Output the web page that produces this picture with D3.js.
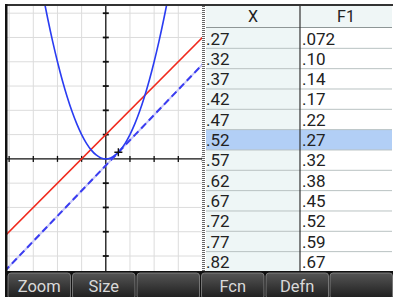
<!DOCTYPE html>
<html>
<head>
<meta charset="utf-8">
<script src="https://cdn.jsdelivr.net/npm/d3@7"></script>
<style>
  body { margin: 0; background: #fff; }
  svg { display: block; }
  text { font-family: Roboto, "Open Sans", sans-serif; }
</style>
</head>
<body>
<svg width="393" height="297"></svg>
<script>
// table values (X and F1 columns)
const tableX  = [".27", ".32", ".37", ".42", ".47", ".52", ".57", ".62", ".67", ".72", ".77", ".82"];
const tableF1 = [".072", ".10", ".14", ".17", ".22", ".27", ".32", ".38", ".45", ".52", ".59", ".67"];
const selectedRow = 5;

// plotted curves
const parabolaX = [-2.6, -2.4, -2.2, -2.0, -1.8, -1.6, -1.4, -1.2, -1.0, -0.8, -0.6, -0.4, -0.2, 0, 0.2, 0.4, 0.6, 0.8, 1.0, 1.2, 1.4, 1.6, 1.8, 2.0, 2.2, 2.4, 2.6];
const parabolaY = [6.76, 5.76, 4.84, 4.0, 3.24, 2.56, 1.96, 1.44, 1.0, 0.64, 0.36, 0.16, 0.04, 0, 0.04, 0.16, 0.36, 0.64, 1.0, 1.44, 1.96, 2.56, 3.24, 4.0, 4.84, 5.76, 6.76];
const redX = [-4.2, 4.2];
const redY = [-3.2, 5.2];
const tangentX = [-4.2, 4.2];
const tangentY = [-4.64, 4.10];
const cursor = [0.52, 0.27];

const gridX = [-4, -3, -2, -1, 1, 2, 3, 4];
const gridY = [-4, -3, -2, -1, 1, 2, 3, 4, 5, 6];

const menuLabels = ["Zoom", "Size", "", "Fcn", "Defn", ""];

const svg = d3.select("svg");

// graph area
const gx0 = 7, gx1 = 202, gy0 = 6, gy1 = 272;

const x = d3.scaleLinear().domain([-3, 3]).range([33.3, 178.3]);
const y = d3.scaleLinear().domain([-4, 6]).range([256, 13.2]);

svg.append("clipPath").attr("id", "gclip")
    .append("rect").attr("x", gx0).attr("y", gy0).attr("width", gx1 - gx0).attr("height", gy1 - gy0);

const g = svg.append("g").attr("clip-path", "url(#gclip)");
g.append("rect").attr("x", gx0).attr("y", gy0).attr("width", gx1 - gx0).attr("height", gy1 - gy0).attr("fill", "#fff");

g.selectAll(".vgrid").data(gridX).enter().append("line")
    .attr("x1", d => x(d)).attr("x2", d => x(d))
    .attr("y1", gy0).attr("y2", gy1)
    .attr("stroke", "#dcdcdc").attr("stroke-width", 1);
g.selectAll(".hgrid").data(gridY).enter().append("line")
    .attr("y1", d => y(d)).attr("y2", d => y(d))
    .attr("x1", gx0).attr("x2", gx1)
    .attr("stroke", "#dcdcdc").attr("stroke-width", 1);

// axes
g.append("line").attr("x1", x(0)).attr("x2", x(0)).attr("y1", gy0).attr("y2", gy1)
    .attr("stroke", "#111").attr("stroke-width", 1.3);
g.append("line").attr("y1", y(0)).attr("y2", y(0)).attr("x1", gx0).attr("x2", gx1)
    .attr("stroke", "#111").attr("stroke-width", 1.3);
g.selectAll(".ytick").data(gridY).enter().append("line")
    .attr("x1", x(0) - 3).attr("x2", x(0) + 3)
    .attr("y1", d => y(d)).attr("y2", d => y(d))
    .attr("stroke", "#111").attr("stroke-width", 1.8);
g.selectAll(".xtick").data(gridX).enter().append("line")
    .attr("y1", y(0) - 3).attr("y2", y(0) + 3)
    .attr("x1", d => x(d)).attr("x2", d => x(d))
    .attr("stroke", "#111").attr("stroke-width", 1.3);

const line = d3.line().x(d => x(d[0])).y(d => y(d[1]));

// tangent (dashed, over a pale line)
const tangentPts = d3.zip(tangentX, tangentY);
g.append("path").attr("d", line(tangentPts)).attr("fill", "none")
    .attr("stroke", "#c9c9f7").attr("stroke-width", 2);
g.append("path").attr("d", line(tangentPts)).attr("fill", "none")
    .attr("stroke", "#3a3cf0").attr("stroke-width", 2)
    .attr("stroke-dasharray", "7,4");

g.append("path").attr("d", line(d3.zip(redX, redY))).attr("fill", "none")
    .attr("stroke", "#f02a1e").attr("stroke-width", 1.6);

g.append("path")
    .attr("d", line.curve(d3.curveCatmullRom)(d3.zip(parabolaX, parabolaY)))
    .attr("fill", "none").attr("stroke", "#2a3cf2").attr("stroke-width", 1.6);

// cursor
const cx = x(cursor[0]), cy = y(cursor[1]);
g.append("path").attr("d", `M${cx - 4},${cy}H${cx + 4}M${cx},${cy - 4}V${cy + 4}`)
    .attr("stroke", "#111").attr("stroke-width", 1.4);

// frame
svg.append("rect").attr("x", 5).attr("y", 4).attr("width", 388).attr("height", 2).attr("fill", "#333");
svg.append("rect").attr("x", 5).attr("y", 4).attr("width", 2.5).attr("height", 268).attr("fill", "#111");

// table
const tx0 = 206, tdiv = 300, tx1 = 392;
const headTop = 6, headBot = 28, rowH = 20.33;

svg.append("rect").attr("x", tx0).attr("y", headTop).attr("width", tx1 - tx0).attr("height", headBot - headTop).attr("fill", "#eff6f6");
svg.append("rect").attr("x", tx0).attr("y", headBot).attr("width", tdiv - tx0).attr("height", rowH * 12).attr("fill", "#eef6f6");
svg.append("rect").attr("x", tdiv).attr("y", headBot).attr("width", tx1 - tdiv).attr("height", rowH * 12).attr("fill", "#fff");
svg.append("rect").attr("x", tx0).attr("y", headBot + rowH * selectedRow).attr("width", tx1 - tx0).attr("height", rowH).attr("fill", "#b2cff6");

svg.append("line").attr("x1", tx0).attr("x2", tx1).attr("y1", headBot - 0.5).attr("y2", headBot - 0.5)
    .attr("stroke", "#8e9696").attr("stroke-width", 1);
svg.selectAll(".rowline").data(tableX.slice(1)).enter().append("line")
    .attr("x1", tx0).attr("x2", tx1)
    .attr("y1", (d, i) => headBot + rowH * (i + 1)).attr("y2", (d, i) => headBot + rowH * (i + 1))
    .attr("stroke", "#b9c2c2").attr("stroke-width", 1);

svg.append("line").attr("x1", tdiv).attr("x2", tdiv).attr("y1", headTop).attr("y2", 272)
    .attr("stroke", "#333").attr("stroke-width", 1.2);
// dotted splitter between graph and table
svg.append("line").attr("x1", 203.5).attr("x2", 203.5).attr("y1", headTop).attr("y2", 272)
    .attr("stroke", "#666").attr("stroke-width", 3).attr("stroke-dasharray", "1,1");

svg.append("text").attr("x", (tx0 + tdiv) / 2).attr("y", 22).attr("text-anchor", "middle")
    .attr("font-size", 16).attr("fill", "#222").text("X");
svg.append("text").attr("x", (tdiv + tx1) / 2).attr("y", 22).attr("text-anchor", "middle")
    .attr("font-size", 16).attr("fill", "#222").text("F1");

svg.selectAll(".xval").data(tableX).enter().append("text")
    .attr("x", 206).attr("y", (d, i) => headBot + rowH * i + 16.5)
    .attr("font-size", 17).attr("fill", "#222").text(d => d);
svg.selectAll(".fval").data(tableF1).enter().append("text")
    .attr("x", 302).attr("y", (d, i) => headBot + rowH * i + 16.5)
    .attr("font-size", 17).attr("fill", "#222").text(d => d);

// soft menu
svg.append("rect").attr("x", 5).attr("y", 271).attr("width", 388).attr("height", 26).attr("fill", "#111");
const grad = svg.append("defs").append("linearGradient").attr("id", "btn")
    .attr("x1", 0).attr("x2", 0).attr("y1", 0).attr("y2", 1);
grad.append("stop").attr("offset", "0%").attr("stop-color", "#555");
grad.append("stop").attr("offset", "100%").attr("stop-color", "#1c1c1c");

const btnL = [8, 72.5, 137, 201.5, 266, 330];
const btnW = 62.5;
const btns = svg.selectAll(".btn").data(menuLabels).enter().append("g")
    .attr("transform", (d, i) => `translate(${btnL[i]},273)`);
btns.append("rect").attr("width", btnW).attr("height", 26).attr("rx", 3)
    .attr("fill", "url(#btn)").attr("stroke", "#8a8a8a").attr("stroke-width", 0.8);
btns.append("text").attr("x", btnW / 2).attr("y", 19).attr("text-anchor", "middle")
    .attr("font-size", 16.5).attr("fill", "#d9d9d9").text(d => d);
</script>
</body>
</html>
